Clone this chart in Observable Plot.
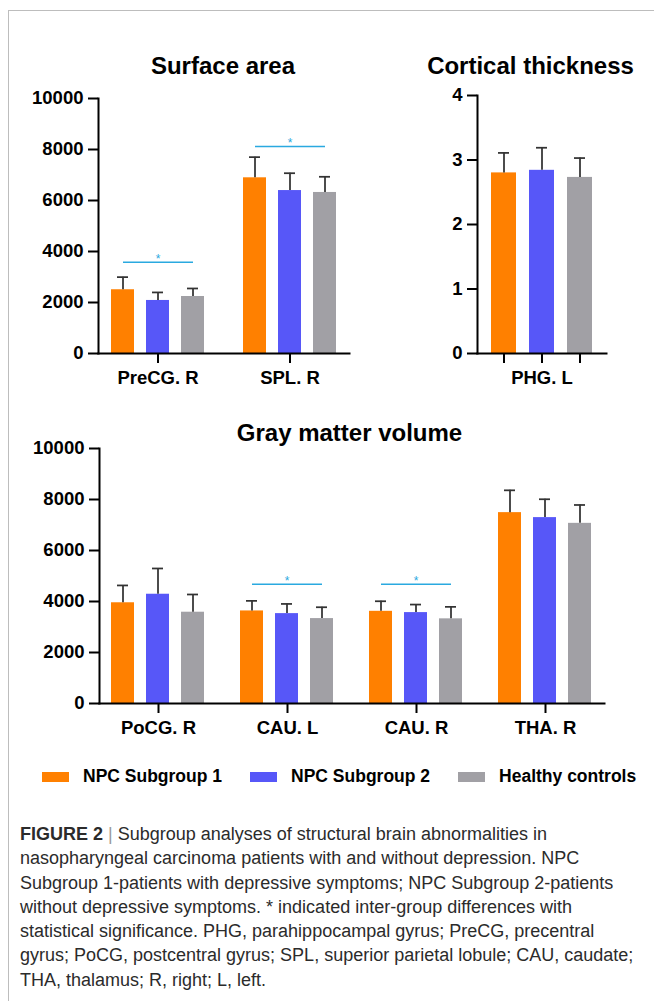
<!DOCTYPE html>
<html>
<head>
<meta charset="utf-8">
<script src="https://cdn.jsdelivr.net/npm/d3@7"></script>
<script src="https://cdn.jsdelivr.net/npm/@observablehq/plot@0.6"></script>
<style>
  body { margin: 0; background: #fff; }
  #root { position: relative; width: 654px; height: 1001px; overflow: hidden; background: #fff;
          font-family: "Liberation Sans", Arial, Helvetica, sans-serif; }
  #border { position: absolute; left: 8px; top: 10px; width: 800px; height: 1100px;
            border-left: 1px solid #bdbdbd; border-top: 1px solid #bdbdbd; }
  .panel { position: absolute; z-index: 1; }
  .title { position: absolute; z-index: 2; width: 400px; text-align: center; font-size: 24px;
           line-height: 24px; font-weight: bold; color: #000; white-space: nowrap; }
  #legend { position: absolute; z-index: 2; left: 42px; top: 767.75px; display: flex; gap: 28px;
            font-size: 17.5px; line-height: 17.5px; font-weight: bold; color: #000; white-space: nowrap; }
  .item { display: flex; align-items: center; }
  .sw { width: 27px; height: 10px; margin-right: 14px; }
  #caption { position: absolute; z-index: 2; left: 20px; top: 822px; font-size: 18px; line-height: 24.3px;
             color: #2b2b2b; white-space: nowrap; }
  #caption .bar { color: #9a9a9a; }
</style>
</head>
<body>
<div id="root">
  <div id="border"></div>
</div>
<script>
// ---------- data ----------
const groups = ["NPC Subgroup 1", "NPC Subgroup 2", "Healthy controls"];
const groupColors = ["#FF8000", "#5757F8", "#A1A0A5"];

const surfaceRegions = ["PreCG. R", "SPL. R"];
const surfaceMean = [[2500, 2080, 2235], [6890, 6390, 6315]];
const surfaceSD = [[495, 315, 315], [810, 680, 615]];
const surfaceSigRegions = ["PreCG. R", "SPL. R"];
const surfaceSigY = [3580, 8120];
const surfaceTicks = [0, 2000, 4000, 6000, 8000, 10000];

const thicknessRegions = ["PHG. L"];
const thicknessMean = [[2.80, 2.84, 2.73]];
const thicknessSD = [[0.31, 0.35, 0.30]];
const thicknessSigRegions = [];
const thicknessSigY = [];
const thicknessTicks = [0, 1, 2, 3, 4];

const volumeRegions = ["PoCG. R", "CAU. L", "CAU. R", "THA. R"];
const volumeMean = [[3950, 4285, 3580], [3630, 3525, 3330], [3615, 3565, 3320], [7485, 7290, 7065]];
const volumeSD = [[680, 1010, 695], [395, 380, 445], [395, 315, 470], [875, 720, 720]];
const volumeSigRegions = ["CAU. L", "CAU. R"];
const volumeSigY = [4680, 4680];
const volumeTicks = [0, 2000, 4000, 6000, 8000, 10000];

const titles = ["Surface area", "Cortical thickness", "Gray matter volume"];
const captionLines = [
  "Subgroup analyses of structural brain abnormalities in",
  "nasopharyngeal carcinoma patients with and without depression. NPC",
  "Subgroup 1-patients with depressive symptoms; NPC Subgroup 2-patients",
  "without depressive symptoms. * indicated inter-group differences with",
  "statistical significance. PHG, parahippocampal gyrus; PreCG, precentral",
  "gyrus; PoCG, postcentral gyrus; SPL, superior parietal lobule; CAU, caudate;",
  "THA, thalamus; R, right; L, left."
];

// ---------- drawing ----------
const root = document.getElementById("root");
const SIG = "#2AA9E0";
const ERR = "#333333";

function rowsOf(regions, means, sds) {
  return regions.flatMap((r, i) => groups.map((g, j) => ({region: r, group: g, mean: means[i][j], sd: sds[i][j]})));
}

function panel(o) {
  const rows = rowsOf(o.regions, o.means, o.sds);
  const sig = o.sigRegions.map((r, i) => ({region: r, y: o.sigY[i]}));
  const marks = [
    Plot.barY(rows, {fx: "region", x: "group", y: "mean", fill: "group"}),
    Plot.ruleX(rows, {fx: "region", x: "group", y1: "mean", y2: d => d.mean + d.sd, stroke: ERR, strokeWidth: 1.75}),
    Plot.tickY(rows, {fx: "region", x: "group", y: d => d.mean + d.sd, stroke: ERR, strokeWidth: 1.75,
                      insetLeft: o.capInset, insetRight: o.capInset}),
    Plot.link(sig, {fx: "region", x1: () => groups[0], x2: () => groups[2], y1: "y", y2: "y",
                    stroke: SIG, strokeWidth: 1.5}),
    Plot.text(sig, {fx: "region", x: () => groups[1], y: "y", text: () => "*", dy: -3,
                    fill: SIG, fontSize: 12, fontWeight: "normal"}),
    Plot.frame({anchor: "left", facet: "super", stroke: "#000", strokeWidth: 2}),
    Plot.frame({anchor: "bottom", facet: "super", stroke: "#000", strokeWidth: 2}),
    Plot.axisY({ticks: o.ticks, tickSize: 10, tickPadding: 5, strokeWidth: 2, label: null, tickFormat: "d"}),
    Plot.axisFx({anchor: "bottom", tickSize: o.fxTick, tickPadding: o.fxPad, strokeWidth: 2, label: null})
  ];
  if (o.barTicks) {
    marks.push(Plot.axisX({anchor: "bottom", tickSize: 10, strokeWidth: 2, label: null, tickFormat: () => ""}));
  }
  const svg = Plot.plot({
    width: o.width, height: o.height,
    marginLeft: o.ml, marginRight: o.mr, marginTop: o.mt, marginBottom: o.mb,
    style: {background: "transparent", fontFamily: "'Liberation Sans', Arial, sans-serif",
            fontSize: "18.5px", fontWeight: "bold", color: "#000", overflow: "visible"},
    fx: {domain: o.regions, paddingInner: o.fxPi, paddingOuter: 0, axis: null},
    x: {domain: groups, paddingInner: o.xPi, paddingOuter: o.xPo, axis: null},
    y: {domain: o.yDomain, axis: null},
    color: {domain: groups, range: groupColors},
    marks
  });
  svg.classList.add("panel");
  svg.style.left = o.left + "px";
  svg.style.top = o.top + "px";
  root.appendChild(svg);
}

panel({regions: surfaceRegions, means: surfaceMean, sds: surfaceSD, sigRegions: surfaceSigRegions, sigY: surfaceSigY,
       ticks: surfaceTicks, yDomain: [0, 10000], left: 0, top: 80, width: 360, height: 320,
       ml: 97, mr: 10, mt: 18, mb: 47, fxPi: 0.0977, xPi: 1 / 3, xPo: 1 / 3, capInset: 6,
       fxTick: 10, fxPad: 7, barTicks: false});

panel({regions: thicknessRegions, means: thicknessMean, sds: thicknessSD, sigRegions: thicknessSigRegions, sigY: thicknessSigY,
       ticks: thicknessTicks, yDomain: [0, 4], left: 400, top: 80, width: 254, height: 320,
       ml: 77, mr: 48, mt: 15, mb: 47, fxPi: 0, xPi: 0.342, xPo: 0.368, capInset: 7,
       fxTick: 0, fxPad: 17, barTicks: true});

panel({regions: volumeRegions, means: volumeMean, sds: volumeSD, sigRegions: volumeSigRegions, sigY: volumeSigY,
       ticks: volumeTicks, yDomain: [0, 10000], left: 0, top: 420, width: 654, height: 330,
       ml: 97, mr: 49, mt: 28, mb: 47, fxPi: 0.089, xPi: 1 / 3, xPo: 1 / 3, capInset: 6,
       fxTick: 10, fxPad: 7, barTicks: false});

// titles
const titlePos = [[223, 54], [530.5, 54], [349.5, 421.4]];
titles.forEach((t, i) => {
  const d = document.createElement("div");
  d.className = "title";
  d.textContent = t;
  d.style.left = (titlePos[i][0] - 200) + "px";
  d.style.top = titlePos[i][1] + "px";
  root.appendChild(d);
});

// legend
const legend = document.createElement("div");
legend.id = "legend";
groups.forEach((g, i) => {
  const it = document.createElement("div");
  it.className = "item";
  const sw = document.createElement("div");
  sw.className = "sw";
  sw.style.background = groupColors[i];
  const tx = document.createElement("span");
  tx.textContent = g;
  it.appendChild(sw);
  it.appendChild(tx);
  legend.appendChild(it);
});
root.appendChild(legend);

// caption
const cap = document.createElement("div");
cap.id = "caption";
cap.innerHTML = captionLines.map((l, i) =>
  i === 0 ? `<b>FIGURE 2</b> <span class="bar">|</span> ${l}` : l).join("<br>");
root.appendChild(cap);
</script>
</body>
</html>
